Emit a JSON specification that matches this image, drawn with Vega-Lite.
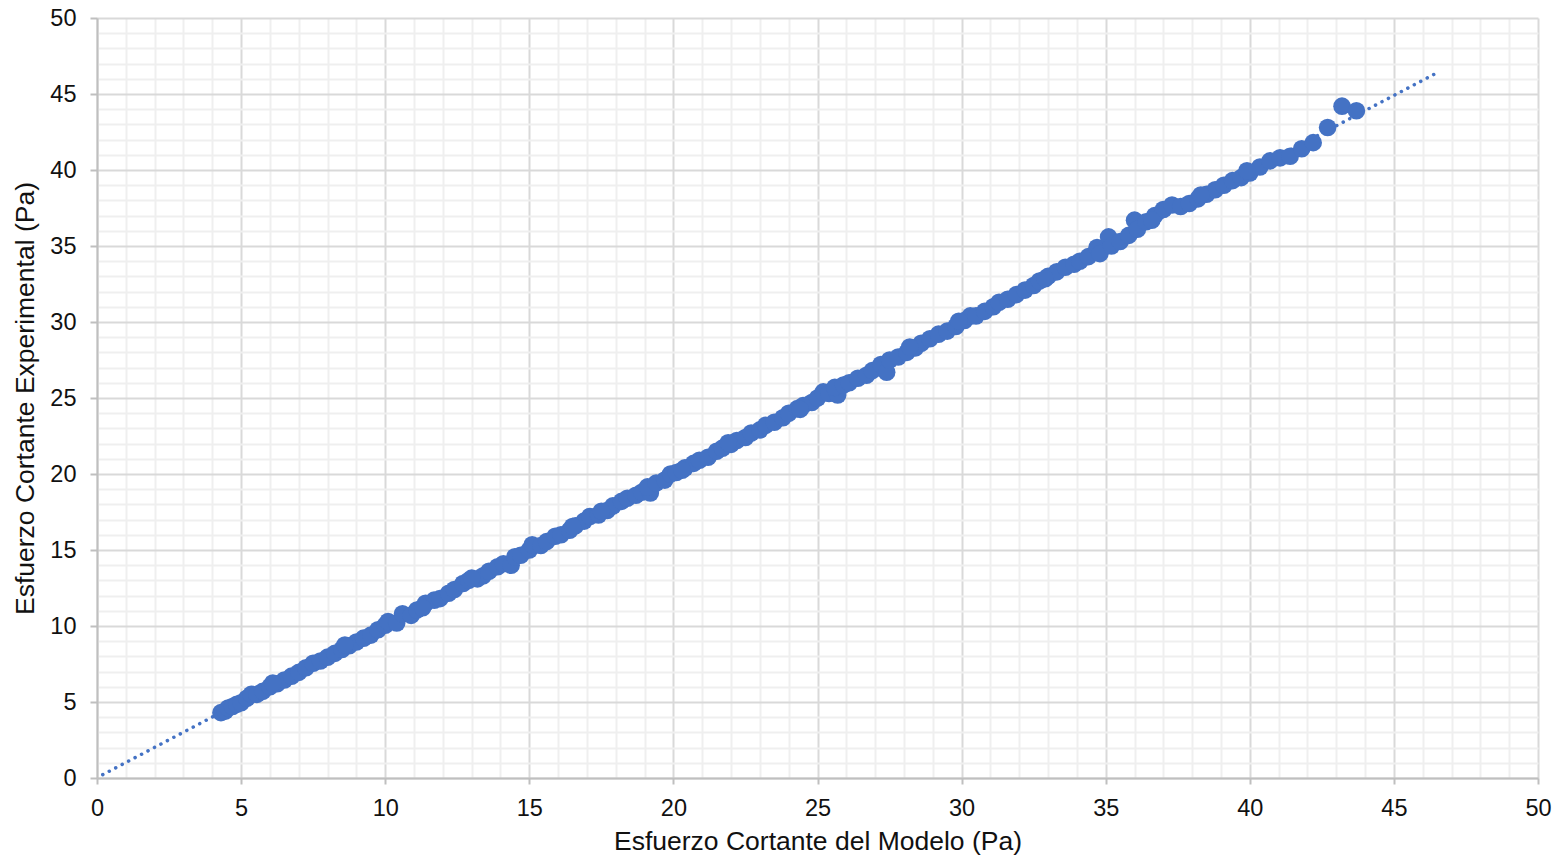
{
  "$schema": "https://vega.github.io/schema/vega-lite/v6.json",
  "width": 1441,
  "height": 760,
  "autosize": "none",
  "padding": {"left": 97, "top": 18, "right": 26, "bottom": 83},
  "background": "white",
  "config": {"view": {"stroke": null}, "font": "Liberation Sans"},
  "datasets": {
    "trend": [{"x": 0.2, "y": 0.22}, {"x": 46.5, "y": 46.4}],
    "pts": [
      {"x": 4.30, "y": 4.30}, {"x": 4.45, "y": 4.40}, {"x": 4.55, "y": 4.60}, {"x": 4.70, "y": 4.70},
      {"x": 4.85, "y": 4.85}, {"x": 5.00, "y": 4.95}, {"x": 5.20, "y": 5.25}, {"x": 5.35, "y": 5.50},
      {"x": 5.55, "y": 5.50}, {"x": 5.75, "y": 5.70}, {"x": 6.00, "y": 6.00}, {"x": 6.25, "y": 6.20},
      {"x": 6.50, "y": 6.45}, {"x": 6.75, "y": 6.70}, {"x": 7.00, "y": 6.95}, {"x": 7.25, "y": 7.25},
      {"x": 7.50, "y": 7.55}, {"x": 7.75, "y": 7.70}, {"x": 8.00, "y": 7.95}, {"x": 8.25, "y": 8.20},
      {"x": 8.50, "y": 8.45}, {"x": 8.75, "y": 8.70}, {"x": 9.00, "y": 8.95}, {"x": 9.25, "y": 9.20},
      {"x": 9.50, "y": 9.40}, {"x": 9.75, "y": 9.75}, {"x": 10.00, "y": 10.05}, {"x": 10.10, "y": 10.30},
      {"x": 10.40, "y": 10.20}, {"x": 10.60, "y": 10.80}, {"x": 10.90, "y": 10.70}, {"x": 11.10, "y": 11.05},
      {"x": 11.40, "y": 11.50}, {"x": 11.70, "y": 11.70}, {"x": 11.90, "y": 11.80}, {"x": 12.20, "y": 12.15},
      {"x": 12.40, "y": 12.40}, {"x": 12.70, "y": 12.80}, {"x": 12.90, "y": 13.00}, {"x": 13.20, "y": 13.10},
      {"x": 13.40, "y": 13.30}, {"x": 13.60, "y": 13.60}, {"x": 13.90, "y": 13.90}, {"x": 14.10, "y": 14.10},
      {"x": 14.37, "y": 14.00}, {"x": 14.50, "y": 14.55}, {"x": 14.70, "y": 14.65}, {"x": 15.00, "y": 15.00},
      {"x": 15.10, "y": 15.35}, {"x": 15.40, "y": 15.30}, {"x": 15.60, "y": 15.55}, {"x": 15.90, "y": 15.90},
      {"x": 16.10, "y": 16.00}, {"x": 16.40, "y": 16.30}, {"x": 16.60, "y": 16.60}, {"x": 16.90, "y": 16.90},
      {"x": 17.10, "y": 17.20}, {"x": 17.40, "y": 17.30}, {"x": 17.70, "y": 17.60}, {"x": 17.90, "y": 17.90},
      {"x": 18.20, "y": 18.20}, {"x": 18.40, "y": 18.40}, {"x": 18.70, "y": 18.60}, {"x": 18.90, "y": 18.80},
      {"x": 19.20, "y": 18.75}, {"x": 19.10, "y": 19.15}, {"x": 19.40, "y": 19.40}, {"x": 19.70, "y": 19.60},
      {"x": 19.90, "y": 20.00}, {"x": 20.10, "y": 20.10}, {"x": 20.40, "y": 20.40}, {"x": 20.70, "y": 20.70},
      {"x": 20.90, "y": 20.90}, {"x": 21.20, "y": 21.10}, {"x": 21.50, "y": 21.50}, {"x": 21.70, "y": 21.70},
      {"x": 22.00, "y": 21.95}, {"x": 22.20, "y": 22.20}, {"x": 22.50, "y": 22.40}, {"x": 22.70, "y": 22.70},
      {"x": 23.00, "y": 22.90}, {"x": 23.20, "y": 23.20}, {"x": 23.50, "y": 23.40}, {"x": 23.80, "y": 23.70},
      {"x": 24.00, "y": 24.00}, {"x": 24.30, "y": 24.30}, {"x": 24.50, "y": 24.50}, {"x": 24.80, "y": 24.70},
      {"x": 25.00, "y": 25.00}, {"x": 25.20, "y": 25.40}, {"x": 25.40, "y": 25.30}, {"x": 25.70, "y": 25.20},
      {"x": 25.60, "y": 25.70}, {"x": 25.90, "y": 25.85}, {"x": 26.10, "y": 26.00}, {"x": 26.40, "y": 26.30},
      {"x": 26.70, "y": 26.50}, {"x": 26.90, "y": 26.80}, {"x": 27.20, "y": 27.20}, {"x": 27.40, "y": 26.70},
      {"x": 27.50, "y": 27.50}, {"x": 27.80, "y": 27.70}, {"x": 28.10, "y": 28.00}, {"x": 28.40, "y": 28.30},
      {"x": 28.60, "y": 28.60}, {"x": 28.90, "y": 28.90}, {"x": 29.20, "y": 29.20}, {"x": 29.50, "y": 29.40},
      {"x": 29.80, "y": 29.70}, {"x": 30.10, "y": 30.10}, {"x": 30.30, "y": 30.40}, {"x": 30.50, "y": 30.40},
      {"x": 30.80, "y": 30.70}, {"x": 31.10, "y": 31.00}, {"x": 31.30, "y": 31.30}, {"x": 31.60, "y": 31.50},
      {"x": 31.90, "y": 31.80}, {"x": 32.20, "y": 32.10}, {"x": 32.50, "y": 32.40}, {"x": 32.70, "y": 32.70},
      {"x": 33.00, "y": 33.00}, {"x": 33.30, "y": 33.30}, {"x": 33.60, "y": 33.60}, {"x": 33.90, "y": 33.80},
      {"x": 34.10, "y": 34.00}, {"x": 34.40, "y": 34.30}, {"x": 34.70, "y": 34.90}, {"x": 34.80, "y": 34.50},
      {"x": 35.10, "y": 35.60}, {"x": 35.20, "y": 35.00}, {"x": 35.50, "y": 35.30}, {"x": 35.80, "y": 35.70},
      {"x": 36.00, "y": 36.70}, {"x": 36.10, "y": 36.10}, {"x": 36.40, "y": 36.60}, {"x": 36.70, "y": 37.00},
      {"x": 37.00, "y": 37.40}, {"x": 37.30, "y": 37.70}, {"x": 37.60, "y": 37.60}, {"x": 37.90, "y": 37.80},
      {"x": 38.20, "y": 38.10}, {"x": 38.50, "y": 38.40}, {"x": 38.80, "y": 38.70}, {"x": 39.10, "y": 39.00},
      {"x": 39.40, "y": 39.30}, {"x": 39.70, "y": 39.50}, {"x": 40.00, "y": 39.80}, {"x": 40.35, "y": 40.20},
      {"x": 40.70, "y": 40.60}, {"x": 41.05, "y": 40.80}, {"x": 41.40, "y": 40.90}, {"x": 41.80, "y": 41.40},
      {"x": 42.20, "y": 41.80}, {"x": 42.70, "y": 42.80}, {"x": 43.20, "y": 44.20}, {"x": 43.70, "y": 43.90},
      {"x": 6.10, "y": 6.25}, {"x": 8.60, "y": 8.75}, {"x": 11.30, "y": 11.20}, {"x": 13.00, "y": 13.15},
      {"x": 16.50, "y": 16.55}, {"x": 17.50, "y": 17.55}, {"x": 20.30, "y": 20.25}, {"x": 21.90, "y": 22.05},
      {"x": 24.40, "y": 24.25}, {"x": 28.20, "y": 28.35}, {"x": 29.90, "y": 30.05}, {"x": 32.90, "y": 32.85},
      {"x": 36.60, "y": 36.70}, {"x": 38.30, "y": 38.35}, {"x": 39.90, "y": 39.95}
    ]
  },
  "layer": [
    {
      "data": {"name": "trend"},
      "mark": {"type": "line", "color": "#4472c4", "strokeWidth": 3.5, "strokeDash": [0.1, 7.2], "strokeCap": "round"},
      "encoding": {
        "x": {"field": "x", "type": "quantitative", "scale": {"domain": [0, 50], "nice": false, "zero": false},
          "axis": {"orient": "bottom", "values": [1,2,3,4,6,7,8,9,11,12,13,14,16,17,18,19,21,22,23,24,26,27,28,29,31,32,33,34,36,37,38,39,41,42,43,44,46,47,48,49],
            "grid": true, "gridColor": "#efefef", "gridWidth": 2, "labels": false, "ticks": false, "domain": false, "title": null}},
        "y": {"field": "y", "type": "quantitative", "scale": {"domain": [0, 50], "nice": false, "zero": false},
          "axis": {"orient": "left", "values": [1,2,3,4,6,7,8,9,11,12,13,14,16,17,18,19,21,22,23,24,26,27,28,29,31,32,33,34,36,37,38,39,41,42,43,44,46,47,48,49],
            "grid": true, "gridColor": "#efefef", "gridWidth": 2, "labels": false, "ticks": false, "domain": false, "title": null}}
      }
    },
    {
      "data": {"name": "pts"},
      "mark": {"type": "circle", "size": 310, "color": "#4472c4", "opacity": 1},
      "encoding": {
        "x": {"field": "x", "type": "quantitative", "scale": {"domain": [0, 50], "nice": false, "zero": false},
          "axis": {"orient": "bottom", "values": [0,5,10,15,20,25,30,35,40,45,50], "grid": true, "gridColor": "#d9d9d9", "gridWidth": 2,
            "domainColor": "#bfbfbf", "domainWidth": 2, "tickColor": "#bfbfbf", "tickWidth": 2, "tickSize": 6,
            "labelFontSize": 23.5, "labelColor": "#111111", "labelPadding": 12, "labelFont": "Liberation Sans", "labelFlush": false,
            "title": "Esfuerzo Cortante del Modelo (Pa)", "titleFontSize": 26.5, "titleFontWeight": "normal", "titleColor": "#111111", "titlePadding": 9, "titleFont": "Liberation Sans"}},
        "y": {"field": "y", "type": "quantitative", "scale": {"domain": [0, 50], "nice": false, "zero": false},
          "axis": {"orient": "left", "values": [0,5,10,15,20,25,30,35,40,45,50], "grid": true, "gridColor": "#d9d9d9", "gridWidth": 2,
            "domainColor": "#bfbfbf", "domainWidth": 2, "tickColor": "#bfbfbf", "tickWidth": 2, "tickSize": 7,
            "labelFontSize": 23.5, "labelColor": "#111111", "labelPadding": 14, "labelFont": "Liberation Sans", "labelFlush": false,
            "title": "Esfuerzo Cortante Experimental (Pa)", "titleFontSize": 26.5, "titleFontWeight": "normal", "titleColor": "#111111", "titlePadding": 10, "titleFont": "Liberation Sans"}}
      }
    }
  ],
  "resolve": {"axis": {"x": "independent", "y": "independent"}}
}
